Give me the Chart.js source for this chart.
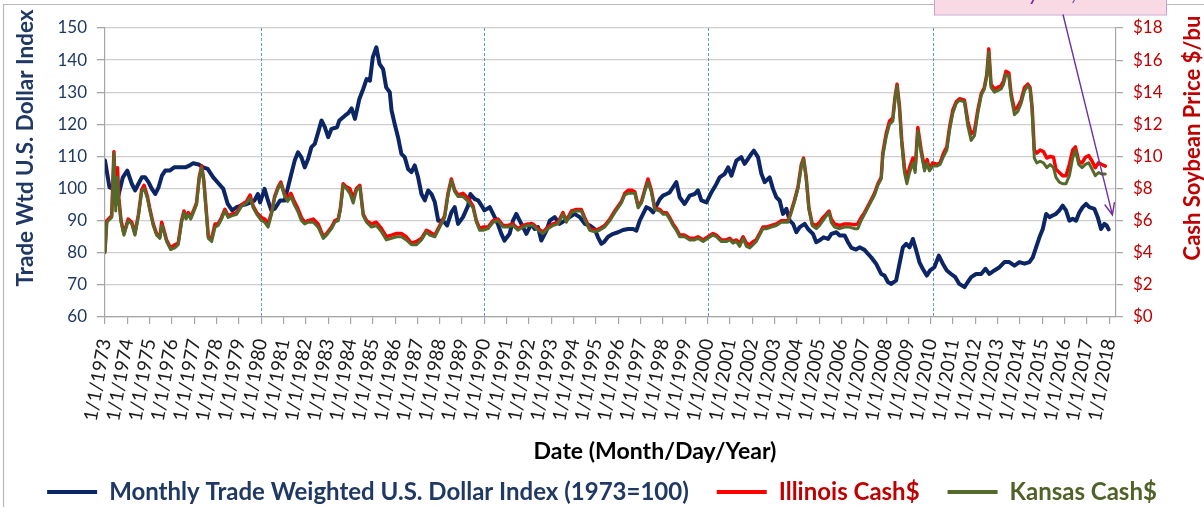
<!DOCTYPE html>
<html>
<head>
<meta charset="utf-8">
<title>Trade Weighted Dollar vs Cash Soybean Price</title>
<script src="https://cdn.jsdelivr.net/npm/chart.js@4.4.1/dist/chart.umd.min.js"></script>
<style>
  html, body { margin: 0; padding: 0; background: #fff; }
  #wrap { width: 1204px; height: 507px; }
</style>
</head>
<body>
<div id="wrap"><canvas id="chart" width="1204" height="507"></canvas></div>
<script>
// ====== DATA ======
const dollarDates = [
  1973.0, 1973.2, 1973.4, 1973.6, 1973.8, 1974.0, 1974.2, 1974.35, 1974.5, 1974.65,
  1974.8, 1974.95, 1975.1, 1975.25, 1975.4, 1975.55, 1975.7, 1975.9, 1976.1, 1976.35,
  1976.6, 1976.8, 1976.95, 1977.2, 1977.4, 1977.6, 1977.85, 1978.1, 1978.3, 1978.5,
  1978.7, 1978.9, 1979.1, 1979.35, 1979.55, 1979.7, 1979.85, 1979.95, 1980.15, 1980.3,
  1980.45, 1980.6, 1980.85, 1981.05, 1981.2, 1981.35, 1981.5, 1981.65, 1981.8, 1981.95,
  1982.1, 1982.25, 1982.4, 1982.55, 1982.7, 1982.85, 1983.0, 1983.15, 1983.4, 1983.5,
  1983.75, 1983.9, 1984.05, 1984.2, 1984.4, 1984.57, 1984.72, 1984.87, 1985.0, 1985.16,
  1985.3, 1985.46, 1985.6, 1985.76, 1985.84, 1985.98, 1986.13, 1986.28, 1986.43, 1986.58,
  1986.73, 1986.88, 1987.03, 1987.18, 1987.33, 1987.48, 1987.63, 1987.78, 1987.93, 1988.15,
  1988.33, 1988.52, 1988.67, 1988.82, 1989.04, 1989.27, 1989.37, 1989.57, 1989.72, 1989.87,
  1990.0, 1990.24, 1990.46, 1990.6, 1990.76, 1990.9, 1991.13, 1991.28, 1991.43, 1991.58,
  1991.73, 1991.88, 1992.1, 1992.25, 1992.4, 1992.55, 1992.78, 1992.93, 1993.15, 1993.37,
  1993.6, 1993.82, 1994.04, 1994.27, 1994.5, 1994.72, 1994.94, 1995.09, 1995.24, 1995.35,
  1995.54, 1995.77, 1995.99, 1996.21, 1996.44, 1996.66, 1996.81, 1996.96, 1997.11, 1997.26,
  1997.41, 1997.56, 1997.71, 1997.86, 1998.0, 1998.16, 1998.3, 1998.45, 1998.6, 1998.75,
  1998.97, 1999.2, 1999.42, 1999.57, 1999.72, 1999.95, 2000.17, 2000.4, 2000.54, 2000.77,
  2000.92, 2001.07, 2001.29, 2001.51, 2001.66, 2001.81, 2001.96, 2002.07, 2002.26, 2002.41,
  2002.56, 2002.78, 2002.93, 2003.08, 2003.23, 2003.38, 2003.53, 2003.68, 2003.83, 2003.98,
  2004.13, 2004.35, 2004.5, 2004.72, 2004.87, 2005.0, 2005.2, 2005.4, 2005.55, 2005.77,
  2005.92, 2006.14, 2006.29, 2006.45, 2006.65, 2006.81, 2007.03, 2007.18, 2007.33, 2007.55,
  2007.78, 2007.93, 2008.08, 2008.23, 2008.45, 2008.6, 2008.75, 2008.9, 2009.05, 2009.2,
  2009.35, 2009.49, 2009.64, 2009.82, 2009.97, 2010.16, 2010.36, 2010.54, 2010.72, 2010.91,
  2011.1, 2011.28, 2011.51, 2011.66, 2011.81, 2012.03, 2012.26, 2012.45, 2012.63, 2012.85,
  2013.08, 2013.3, 2013.52, 2013.75, 2013.97, 2014.2, 2014.42, 2014.57, 2014.72, 2014.87,
  2015.02, 2015.17, 2015.32, 2015.46, 2015.61, 2015.76, 2015.91, 2016.06, 2016.21, 2016.36,
  2016.51, 2016.66, 2016.81, 2016.96, 2017.1, 2017.33, 2017.48, 2017.63, 2017.78, 2017.88,
  2017.97
];
const dollarIndex = [
  108.7, 100.4, 99.9, 97.8, 103.5, 105.6, 101.5, 99.4, 101.5, 103.5,
  103.5, 102.0, 99.9, 98.3, 100.4, 104.0, 105.6, 105.6, 106.6, 106.6,
  106.6, 107.2, 107.9, 107.5, 106.6, 106.1, 103.5, 101.5, 99.9, 95.2,
  93.2, 94.2, 94.7, 95.2, 95.7, 96.3, 98.3, 95.7, 99.9, 96.3,
  93.2, 93.7, 96.3, 96.3, 100.4, 104.6, 108.7, 111.3, 109.7, 106.6,
  109.2, 112.9, 113.9, 117.5, 121.2, 119.1, 116.0, 118.6, 119.1, 121.2,
  122.7, 123.5, 125.0, 121.7, 128.0, 131.0, 134.1, 133.6, 140.9, 144.0,
  138.8, 137.2, 131.5, 130.0, 124.3, 120.1, 116.0, 110.8, 109.8, 106.1,
  105.1, 107.2, 103.5, 98.3, 96.3, 99.4, 98.3, 95.7, 90.0, 90.0,
  88.5, 92.6, 94.2, 89.0, 91.1, 94.7, 98.3, 96.7, 96.3, 94.7,
  93.2, 94.2, 91.1, 89.0, 85.9, 83.8, 85.9, 90.0, 92.1, 90.0,
  88.0, 85.9, 89.0, 87.4, 88.0, 83.8, 86.9, 90.0, 91.1, 89.0,
  90.0, 91.1, 92.1, 91.1, 89.0, 88.5, 87.4, 84.8, 82.8, 83.3,
  85.0, 85.9, 86.4, 87.1, 87.4, 87.4, 86.9, 90.0, 92.1, 94.2,
  93.7, 92.6, 94.7, 96.7, 97.8, 98.3, 98.8, 100.4, 102.0, 97.3,
  95.2, 97.8, 98.3, 99.4, 96.3, 95.7, 98.8, 101.5, 103.5, 104.6,
  106.6, 104.0, 108.7, 109.8, 107.7, 109.2, 110.8, 111.8, 109.8, 104.6,
  102.0, 103.5, 99.9, 97.3, 96.3, 92.1, 93.7, 90.0, 89.0, 86.4,
  88.0, 89.0, 87.4, 85.9, 83.3, 83.8, 84.8, 84.3, 85.9, 86.4,
  85.4, 85.4, 83.3, 81.5, 81.0, 81.7, 80.9, 79.7, 78.6, 76.6,
  73.4, 72.9, 70.9, 70.3, 71.4, 76.6, 81.7, 82.8, 81.7, 84.3,
  80.7, 77.1, 75.0, 72.9, 74.5, 75.5, 79.1, 76.6, 74.5, 73.4,
  72.4, 70.3, 69.3, 70.9, 72.4, 73.4, 73.4, 75.0, 73.4, 74.5,
  75.5, 77.1, 77.1, 76.0, 77.1, 76.6, 77.1, 78.6, 81.7, 84.8,
  87.4, 92.1, 91.1, 91.6, 92.1, 93.2, 94.7, 93.2, 90.0, 90.6,
  90.0, 92.6, 94.2, 95.2, 94.2, 93.7, 91.1, 87.4, 89.0, 88.5,
  87.3
];

const cashDates = [
  1973.0, 1973.08, 1973.3, 1973.4, 1973.48, 1973.56, 1973.62, 1973.72, 1973.85, 1974.04,
  1974.2, 1974.34, 1974.5, 1974.64, 1974.75, 1974.9, 1975.0, 1975.16, 1975.31, 1975.46,
  1975.54, 1975.64, 1975.76, 1975.94, 1976.13, 1976.28, 1976.43, 1976.54, 1976.63, 1976.73,
  1976.84, 1976.96, 1977.1, 1977.22, 1977.33, 1977.43, 1977.55, 1977.63, 1977.78, 1977.93,
  1978.07, 1978.22, 1978.37, 1978.52, 1978.67, 1978.9, 1979.12, 1979.34, 1979.5, 1979.64,
  1979.8, 1980.01, 1980.16, 1980.31, 1980.46, 1980.6, 1980.76, 1980.88, 1981.03, 1981.18,
  1981.33, 1981.48, 1981.63, 1981.8, 1981.95, 1982.1, 1982.33, 1982.55, 1982.78, 1982.93,
  1983.15, 1983.3, 1983.45, 1983.55, 1983.67, 1983.82, 1983.97, 1984.12, 1984.27, 1984.42,
  1984.57, 1984.72, 1984.94, 1985.16, 1985.39, 1985.61, 1985.84, 1986.06, 1986.28, 1986.5,
  1986.73, 1986.96, 1987.18, 1987.4, 1987.55, 1987.78, 1988.0, 1988.22, 1988.37, 1988.52,
  1988.67, 1988.82, 1989.04, 1989.27, 1989.49, 1989.64, 1989.79, 1989.94, 1990.16, 1990.39,
  1990.61, 1990.84, 1991.06, 1991.28, 1991.5, 1991.73, 1991.95, 1992.18, 1992.4, 1992.63,
  1992.85, 1993.07, 1993.3, 1993.52, 1993.67, 1993.9, 1994.12, 1994.34, 1994.49, 1994.72,
  1994.94, 1995.16, 1995.39, 1995.62, 1995.84, 1995.99, 1996.14, 1996.29, 1996.44, 1996.59,
  1996.74, 1996.89, 1997.04, 1997.18, 1997.33, 1997.48, 1997.63, 1997.86, 1998.0, 1998.16,
  1998.3, 1998.45, 1998.6, 1998.75, 1998.97, 1999.2, 1999.42, 1999.57, 1999.8, 2000.02,
  2000.24, 2000.39, 2000.62, 2000.84, 2000.99, 2001.14, 2001.29, 2001.44, 2001.59, 2001.74,
  2001.89, 2002.04, 2002.18, 2002.33, 2002.48, 2002.63, 2002.86, 2003.08, 2003.3, 2003.45,
  2003.6, 2003.75, 2003.9, 2004.05, 2004.2, 2004.3, 2004.42, 2004.54, 2004.69, 2004.87,
  2005.02, 2005.17, 2005.32, 2005.44, 2005.54, 2005.69, 2005.92, 2006.14, 2006.36, 2006.58,
  2006.73, 2006.88, 2007.03, 2007.18, 2007.33, 2007.48, 2007.63, 2007.78, 2007.85, 2008.0,
  2008.15, 2008.3, 2008.4, 2008.49, 2008.6, 2008.7, 2008.82, 2008.93, 2009.05, 2009.2,
  2009.3, 2009.42, 2009.57, 2009.72, 2009.84, 2009.94, 2010.09, 2010.27, 2010.42, 2010.57,
  2010.72, 2010.84, 2010.99, 2011.14, 2011.29, 2011.51, 2011.66, 2011.81, 2011.96, 2012.11,
  2012.26, 2012.4, 2012.51, 2012.6, 2012.7, 2012.85, 2013.0, 2013.15, 2013.26, 2013.37,
  2013.5, 2013.6, 2013.75, 2013.9, 2014.05, 2014.2, 2014.35, 2014.45, 2014.54, 2014.64,
  2014.75, 2014.9, 2015.05, 2015.2, 2015.35, 2015.5, 2015.61, 2015.76, 2015.91, 2016.06,
  2016.21, 2016.36, 2016.48, 2016.63, 2016.78, 2016.93, 2017.08, 2017.23, 2017.37, 2017.52,
  2017.67, 2017.82
];
const illinoisCash = [
  4.1, 6.0, 6.3, 10.3, 7.0, 9.3, 7.4, 6.0, 5.2, 6.1,
  5.9, 5.2, 6.4, 7.9, 8.2, 7.5, 6.8, 5.8, 5.2, 5.0,
  5.9, 5.4, 4.8, 4.3, 4.5, 4.6, 6.0, 6.6, 6.2, 6.5,
  6.2, 6.6, 7.1, 8.7, 9.4, 8.5, 6.4, 5.0, 4.9, 5.8,
  5.8, 6.2, 6.7, 6.3, 6.4, 6.5, 7.0, 7.2, 7.6, 6.9,
  6.5, 6.2, 6.1, 5.8, 6.5, 7.5, 8.1, 8.4, 7.7, 7.4,
  7.7, 7.2, 6.8, 6.2, 5.9, 6.0, 6.1, 5.8, 5.0, 5.2,
  5.6, 6.0, 6.1, 6.8, 8.3, 8.1, 8.0, 7.4, 8.0, 8.2,
  6.4, 6.0, 5.8, 5.9, 5.5, 5.0, 5.1, 5.2, 5.2, 5.0,
  4.6, 4.7, 4.9, 5.4, 5.3, 5.1, 5.7, 6.3, 7.7, 8.6,
  7.9, 7.6, 7.7, 7.4, 6.9, 6.0, 5.5, 5.6, 5.6, 6.0,
  6.1, 5.7, 5.7, 5.8, 5.5, 5.7, 5.8, 5.8, 5.5, 5.3,
  5.6, 5.8, 5.9, 6.5, 6.0, 6.6, 6.7, 6.7, 6.2, 5.5,
  5.4, 5.5, 5.7, 6.1, 6.6, 6.9, 7.2, 7.7, 7.9, 7.9,
  7.8, 6.9, 7.2, 7.9, 8.6, 7.9, 6.8, 6.7, 6.5, 6.5,
  6.2, 5.8, 5.5, 5.1, 5.1, 4.9, 4.9, 5.0, 4.8, 5.0,
  5.2, 5.1, 4.8, 4.8, 4.9, 4.7, 4.8, 4.6, 5.0, 4.6,
  4.5, 4.7, 4.8, 5.2, 5.6, 5.6, 5.7, 5.8, 6.0, 6.0,
  6.0, 6.6, 7.3, 8.1, 9.5, 9.9, 8.7, 6.8, 5.8, 5.7,
  5.9, 6.2, 6.4, 6.6, 6.1, 5.8, 5.7, 5.8, 5.8, 5.75,
  5.8, 6.2, 6.5, 6.9, 7.3, 7.7, 8.3, 8.7, 10.2, 11.4,
  12.2, 12.4, 13.7, 14.5, 13.1, 11.0, 9.3, 8.6, 9.3, 9.9,
  9.2, 11.8, 10.4, 9.3, 9.8, 9.2, 9.6, 9.5, 9.6, 10.2,
  10.6, 11.8, 12.9, 13.4, 13.6, 13.5, 12.2, 11.4, 11.6, 12.9,
  13.9, 14.3, 15.1, 16.7, 14.5, 14.2, 14.3, 14.4, 14.7, 15.3,
  15.2, 13.9, 12.9, 13.1, 13.5, 14.3, 14.5, 14.3, 13.1, 10.4,
  10.2, 10.4, 10.3, 9.9, 10.0, 9.95, 9.2, 9.0, 8.8, 8.8,
  9.5, 10.4, 10.6, 9.7, 9.6, 9.95, 10.05, 9.7, 9.3, 9.6,
  9.5, 9.4
];
const kansasCash = [
  4.0, 5.9, 6.2, 10.2, 6.6, 8.7, 7.2, 5.9, 5.1, 6.0,
  5.8, 5.1, 6.3, 7.8, 8.0, 7.4, 6.7, 5.7, 5.1, 4.9,
  5.7, 5.3, 4.7, 4.2, 4.3, 4.5, 5.9, 6.5, 6.1, 6.4,
  6.1, 6.5, 7.0, 8.6, 9.3, 8.4, 6.3, 4.9, 4.7, 5.6,
  5.7, 6.1, 6.6, 6.2, 6.3, 6.4, 6.9, 7.1, 7.4, 6.8,
  6.4, 6.0, 5.9, 5.6, 6.4, 7.4, 8.0, 8.3, 7.6, 7.2,
  7.5, 7.0, 6.6, 6.0, 5.8, 5.9, 5.9, 5.6, 4.9, 5.1,
  5.5, 5.9, 6.0, 6.7, 8.2, 8.0, 7.7, 7.1, 7.9, 8.1,
  6.3, 5.9, 5.6, 5.7, 5.3, 4.8, 4.9, 5.0, 5.0, 4.8,
  4.5, 4.5, 4.8, 5.3, 5.1, 5.0, 5.6, 6.2, 7.6, 8.5,
  7.8, 7.5, 7.5, 7.2, 6.8, 5.9, 5.4, 5.4, 5.5, 5.9,
  6.0, 5.6, 5.6, 5.7, 5.4, 5.6, 5.7, 5.7, 5.4, 5.2,
  5.5, 5.7, 5.8, 6.4, 5.9, 6.5, 6.6, 6.6, 6.1, 5.4,
  5.3, 5.4, 5.6, 6.0, 6.5, 6.8, 7.1, 7.6, 7.7, 7.7,
  7.7, 6.8, 7.1, 7.8, 8.4, 7.8, 6.7, 6.6, 6.4, 6.4,
  6.1, 5.7, 5.4, 5.0, 5.0, 4.8, 4.8, 4.9, 4.7, 4.9,
  5.1, 5.0, 4.7, 4.7, 4.8, 4.6, 4.7, 4.4, 4.9, 4.4,
  4.3, 4.5, 4.7, 5.1, 5.5, 5.5, 5.6, 5.7, 5.9, 5.9,
  5.9, 6.5, 7.2, 8.0, 9.4, 9.85, 8.6, 6.7, 5.7, 5.5,
  5.7, 6.0, 6.3, 6.5, 5.9, 5.6, 5.5, 5.6, 5.6, 5.5,
  5.5, 6.0, 6.4, 6.8, 7.2, 7.6, 8.2, 8.6, 10.0, 11.2,
  12.0, 12.2, 13.6, 14.4, 12.9, 10.8, 9.0, 8.3, 9.0, 9.6,
  9.0, 11.6, 10.2, 9.1, 9.6, 9.1, 9.4, 9.4, 9.5, 10.0,
  10.4, 11.6, 12.7, 13.3, 13.5, 13.4, 11.9, 11.0, 11.3, 12.7,
  13.8, 14.2, 15.0, 16.5, 14.3, 14.0, 14.1, 14.2, 14.5, 15.1,
  15.0, 13.7, 12.6, 12.8, 13.3, 14.1, 14.4, 14.2, 12.9, 9.9,
  9.6, 9.7, 9.6, 9.3, 9.5, 9.3, 8.7, 8.4, 8.3, 8.3,
  8.8, 9.9, 10.4, 9.5, 9.3, 9.5, 9.6, 9.2, 8.8, 9.0,
  8.9, 8.9
];

const tickYears = [
  1973, 1974, 1975, 1976, 1977, 1978, 1979, 1980, 1981, 1982, 1983, 1984,
  1985, 1986, 1987, 1988, 1989, 1990, 1991, 1992, 1993, 1994, 1995, 1996,
  1997, 1998, 1999, 2000, 2001, 2002, 2003, 2004, 2005, 2006, 2007, 2008,
  2009, 2010, 2011, 2012, 2013, 2014, 2015, 2016, 2017, 2018
];
const dividerYears = [1980, 1990, 2000, 2010.1];
const seriesNames = ['Monthly Trade Weighted U.S. Dollar Index (1973=100)', 'Illinois Cash$', 'Kansas Cash$'];
const arrowTip = { x: 2018.14, y: 91.8 };   // where the callout arrow points (data coords)

// ====== STYLE ======
const FONT = 'Lato, "Open Sans", "Liberation Sans", sans-serif';
const NAVY = '#1f3864';
const DARK_RED = '#c00000';
const OLIVE = '#4f6228';
const X_AXIS_H = 135;
const LEGEND_H = 55;

function toPoints(xs, ys) {
    return xs.map((x, i) => ({ x: x, y: ys[i] }));
}

// font size that makes text span a given width
function fitSize(ctx, text, weight, style, width) {
    ctx.font = `${style} ${weight} 100px ${FONT}`;
    return 100 * width / ctx.measureText(text).width;
}

function drawText(ctx, text, cx, cy, width, opts) {
    const size = fitSize(ctx, text, opts.weight || 'bold', opts.style || 'normal', width);
    ctx.save();
    ctx.translate(cx, cy);
    if (opts.rotate) ctx.rotate(opts.rotate);
    ctx.font = `${opts.style || 'normal'} ${opts.weight || 'bold'} ${size}px ${FONT}`;
    ctx.fillStyle = opts.color;
    ctx.textAlign = 'center';
    ctx.textBaseline = opts.baseline || 'middle';
    ctx.fillText(text, 0, 0);
    ctx.restore();
}

// keep the legend band a fixed height so the plot area lands where it should
const legendHeightPlugin = {
    id: 'legendHeight',
    beforeInit(chart) {
        const lg = chart.legend;
        if (!lg) return;
        const fit = lg.fit;
        lg.fit = function () { fit.call(this); this.height = LEGEND_H; };
    }
};

const decorPlugin = {
    id: 'decor',
    beforeDraw(chart) {
        const ctx = chart.ctx;
        ctx.save();
        ctx.fillStyle = '#fff';
        ctx.fillRect(0, 0, chart.width, chart.height);
        ctx.strokeStyle = '#b8b8b8';
        ctx.lineWidth = 1.2;
        ctx.beginPath();
        ctx.moveTo(3.5, chart.height);
        ctx.lineTo(3.5, 4.5);
        ctx.lineTo(chart.width, 4.5);
        ctx.stroke();
        ctx.restore();
    },
    beforeDatasetsDraw(chart) {
        const { ctx, chartArea, scales } = chart;
        ctx.save();
        ctx.strokeStyle = '#5b9bd5';
        ctx.lineWidth = 1;
        ctx.setLineDash([3, 2]);
        dividerYears.forEach(yr => {
            const px = Math.round(scales.x.getPixelForValue(yr)) + 0.5;
            ctx.beginPath();
            ctx.moveTo(px, chartArea.top);
            ctx.lineTo(px, chartArea.bottom);
            ctx.stroke();
        });
        ctx.restore();
    },
    afterDraw(chart) {
        const { ctx, scales } = chart;
        // axis titles
        drawText(ctx, 'Trade Wtd U.S. Dollar Index', 26, 148, 277, { color: NAVY, rotate: -Math.PI / 2 });
        drawText(ctx, 'Cash Soybean Price $/bu', 1193, 138, 245, { color: DARK_RED, rotate: -Math.PI / 2 });
        drawText(ctx, 'Date (Month/Day/Year)', 655, 452, 243, { color: '#000' });

        // callout box (cut off at the top edge) with arrow
        const bx = 934, bw = 232, bBottom = 14.5;
        ctx.save();
        ctx.fillStyle = '#f9d9e4';
        ctx.strokeStyle = '#c7a3cc';
        ctx.lineWidth = 1;
        ctx.fillRect(bx, -20, bw, bBottom + 20);
        ctx.strokeRect(bx + 0.5, -20, bw, bBottom + 20.5);
        ctx.restore();
        drawText(ctx, 'January 31, 2018', bx + bw / 2, -0.5, 170, { color: '#7030a0', style: 'italic', weight: 'normal', baseline: 'alphabetic' });

        const tx = scales.x.getPixelForValue(arrowTip.x);
        const ty = scales.y.getPixelForValue(arrowTip.y);
        const sx = 1063, sy = bBottom;
        const ang = Math.atan2(ty - sy, tx - sx);
        ctx.save();
        ctx.strokeStyle = '#7030a0';
        ctx.lineWidth = 1.4;
        ctx.beginPath();
        ctx.moveTo(sx, sy);
        ctx.lineTo(tx, ty);
        ctx.moveTo(tx - 13 * Math.cos(ang - 0.4), ty - 13 * Math.sin(ang - 0.4));
        ctx.lineTo(tx, ty);
        ctx.lineTo(tx - 13 * Math.cos(ang + 0.4), ty - 13 * Math.sin(ang + 0.4));
        ctx.stroke();
        ctx.restore();
    }
};

const ctx = document.getElementById('chart').getContext('2d');
new Chart(ctx, {
    type: 'line',
    data: {
        datasets: [{
            label: seriesNames[0],
            data: toPoints(dollarDates, dollarIndex),
            borderColor: '#0b2565',
            backgroundColor: '#0b2565',
            legendTextColor: NAVY,
            borderWidth: 4,
            yAxisID: 'y',
            order: 3
        }, {
            label: seriesNames[1],
            data: toPoints(cashDates, illinoisCash),
            borderColor: '#ff0000',
            backgroundColor: '#ff0000',
            legendTextColor: DARK_RED,
            borderWidth: 3.5,
            yAxisID: 'y2',
            order: 2
        }, {
            label: seriesNames[2],
            data: toPoints(cashDates, kansasCash),
            borderColor: '#55692b',
            backgroundColor: '#55692b',
            legendTextColor: OLIVE,
            borderWidth: 3,
            yAxisID: 'y2',
            order: 1
        }]
    },
    options: {
        responsive: false,
        animation: false,
        layout: { padding: { top: 28, left: 0, right: 0, bottom: 0 } },
        elements: {
            point: { radius: 0, hoverRadius: 0 },
            line: { tension: 0, borderJoinStyle: 'round', borderCapStyle: 'round' }
        },
        plugins: {
            tooltip: { enabled: false },
            legend: {
                position: 'bottom',
                labels: {
                    boxWidth: 50,
                    boxHeight: 4,
                    padding: 28,
                    font: { family: FONT, size: 24, weight: 'bold' },
                    sort: (a, b) => a.datasetIndex - b.datasetIndex,
                    generateLabels(chart) {
                        const items = Chart.defaults.plugins.legend.labels.generateLabels(chart);
                        items.forEach(it => {
                            const ds = chart.data.datasets[it.datasetIndex];
                            it.fontColor = ds.legendTextColor;
                            it.fillStyle = ds.borderColor;
                            it.strokeStyle = ds.borderColor;
                            it.lineWidth = 0;
                        });
                        return items;
                    }
                }
            }
        },
        scales: {
            x: {
                type: 'linear',
                min: 1973,
                max: 2018.3,
                afterBuildTicks(scale) {
                    scale.ticks = tickYears.map(v => ({ value: v }));
                },
                afterFit(scale) { scale.height = X_AXIS_H; },
                grid: { drawOnChartArea: false, tickLength: 7, color: '#a6a6a6', lineWidth: 1.2 },
                border: { color: '#a6a6a6', width: 1.2 },
                ticks: {
                    autoSkip: false,
                    minRotation: 80,
                    maxRotation: 80,
                    padding: 13,
                    color: '#1a1a1a',
                    font: { family: FONT, size: 19 },
                    callback: v => '1/1/' + v
                }
            },
            y: {
                position: 'left',
                min: 60,
                max: 150,
                afterFit(scale) { scale.width = 105; },
                grid: { color: '#cfcfcf', lineWidth: 1.3, tickLength: 8, tickColor: '#a6a6a6' },
                border: { color: '#a6a6a6', width: 1.2 },
                ticks: {
                    stepSize: 10,
                    padding: 10,
                    color: NAVY,
                    font: { family: FONT, size: 17 }
                }
            },
            y2: {
                position: 'right',
                min: 0,
                max: 18,
                afterFit(scale) { scale.width = 88; },
                grid: { drawOnChartArea: false, tickLength: 7, color: '#a6a6a6', lineWidth: 1.2 },
                border: { color: '#a6a6a6', width: 1.2 },
                ticks: {
                    stepSize: 2,
                    padding: 10,
                    color: DARK_RED,
                    font: { family: FONT, size: 17 },
                    callback: v => '$' + v
                }
            }
        }
    },
    plugins: [legendHeightPlugin, decorPlugin]
});
</script>
</body>
</html>
